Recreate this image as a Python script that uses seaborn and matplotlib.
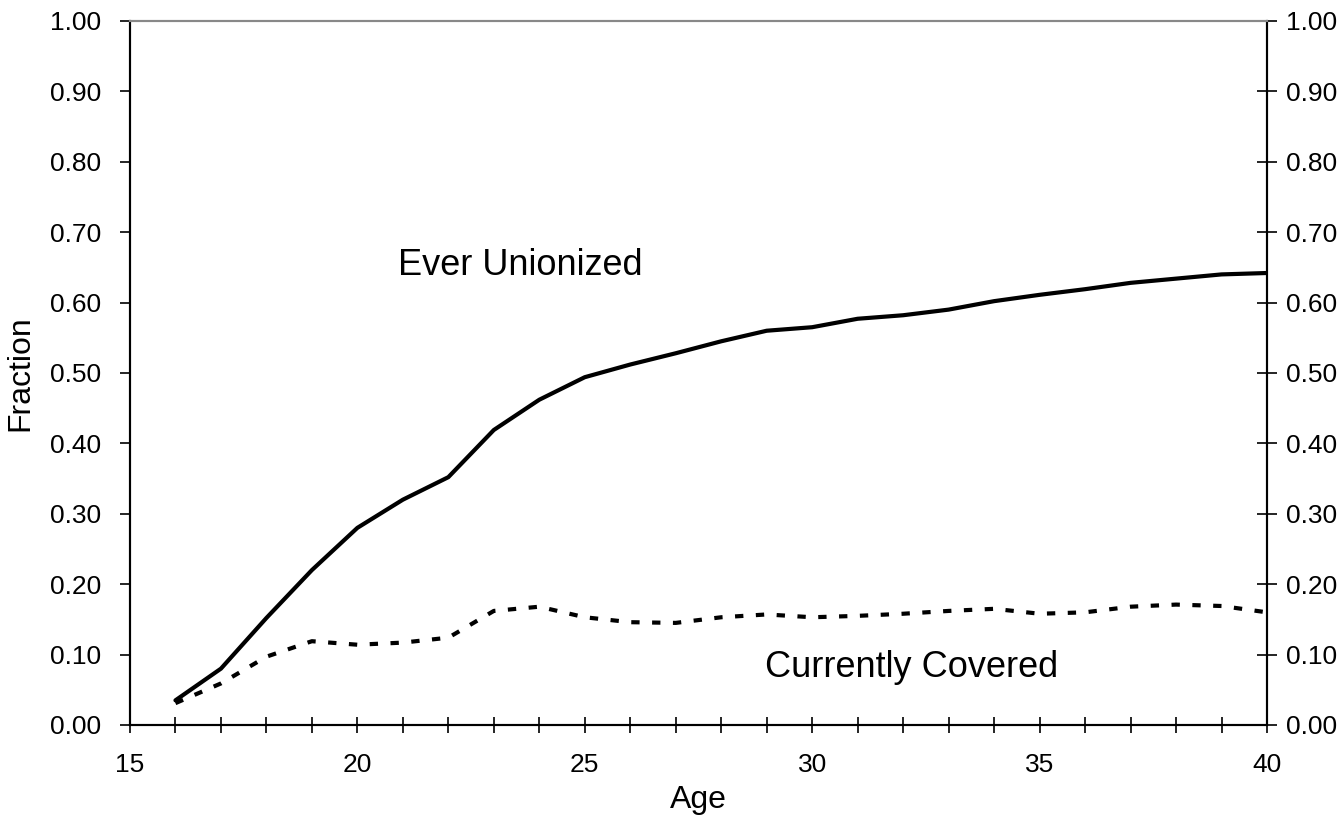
import matplotlib
matplotlib.use("Agg")
import matplotlib.pyplot as plt
import seaborn as sns
import pandas as pd

# values
ages = list(range(16, 41))
ever_unionized = [0.035, 0.080, 0.152, 0.220, 0.280, 0.320, 0.352, 0.419, 0.462, 0.494,
                  0.512, 0.528, 0.545, 0.560, 0.565, 0.577, 0.582, 0.590, 0.602, 0.611,
                  0.619, 0.628, 0.634, 0.640, 0.642]
currently_covered = [0.031, 0.059, 0.097, 0.119, 0.114, 0.117, 0.124, 0.162, 0.168, 0.153,
                     0.146, 0.145, 0.153, 0.157, 0.153, 0.155, 0.158, 0.162, 0.165, 0.158,
                     0.160, 0.168, 0.171, 0.169, 0.160]
y_ticks = [0.0, 0.1, 0.2, 0.3, 0.4, 0.5, 0.6, 0.7, 0.8, 0.9, 1.0]
x_ticks = [15, 20, 25, 30, 35, 40]

df = pd.DataFrame({
    "Age": ages * 2,
    "Fraction": ever_unionized + currently_covered,
    "Series": ["Ever Unionized"] * len(ages) + ["Currently Covered"] * len(ages),
})

sns.set_style("ticks")
plt.rcParams["font.family"] = ["Liberation Sans", "DejaVu Sans"]
plt.rcParams["text.color"] = "black"
plt.rcParams["axes.labelcolor"] = "black"
plt.rcParams["xtick.color"] = "black"
plt.rcParams["ytick.color"] = "black"

fig = plt.figure(figsize=(13.44, 8.19), dpi=100)
ax = fig.add_axes([0.0967, 0.1148, 0.9427 - 0.0967, 0.9744 - 0.1148])

sns.lineplot(data=df, x="Age", y="Fraction", style="Series",
             dashes={"Ever Unionized": "", "Currently Covered": (2.0, 3.0)},
             color="black", linewidth=3, legend=False, ax=ax)
for ln in ax.lines:
    ln.set_dash_capstyle("butt")

ax.set_xlim(15, 40)
ax.set_ylim(0, 1)
ax.set_xticks(x_ticks)
ax.set_xticks(range(15, 41), minor=True)
ax.set_yticks(y_ticks)
ax.set_yticklabels([f"{v:.2f}" for v in y_ticks])
ax.tick_params(axis="x", which="both", direction="inout", length=12, width=1.2,
               labelsize=19, pad=14)
ax.tick_params(axis="y", direction="out", length=7, width=1.2, labelsize=19, pad=14)

ax2 = ax.twinx()
ax2.set_ylim(0, 1)
ax2.set_yticks(y_ticks)
ax2.set_yticklabels([f"{v:.2f}" for v in y_ticks])
ax2.tick_params(axis="y", direction="inout", length=14, width=1.2, labelsize=19, pad=7)

for a in (ax, ax2):
    for side in ["left", "right", "bottom"]:
        a.spines[side].set_color("black")
        a.spines[side].set_linewidth(1.5)
    a.spines["top"].set_color("#888888")
    a.spines["top"].set_linewidth(1.5)

ax.set_xlabel("Age", fontsize=23, labelpad=6)
ax.set_ylabel("Fraction", fontsize=23, labelpad=10)

ax.text(20.9, 0.653, "Ever Unionized", fontsize=26, va="center", ha="left")
ax.text(28.96, 0.081, "Currently Covered", fontsize=26, va="center", ha="left")

fig.savefig("out.png", dpi=100)
